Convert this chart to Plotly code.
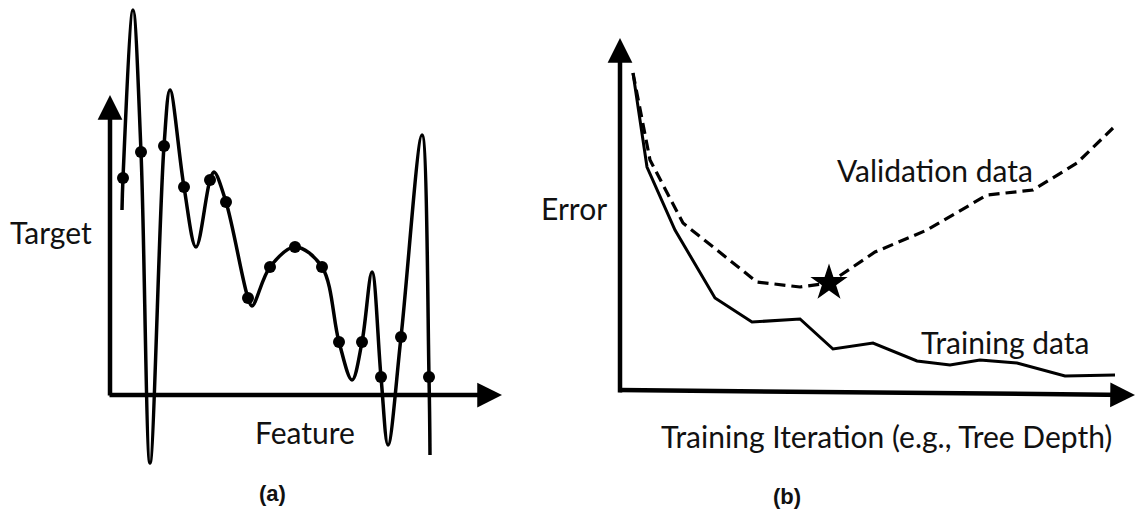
import plotly.graph_objects as go

# ---------------- Panel (a): overfitted curve through samples ----------------
# units: offset from axis origin (feature to the right, target upwards)
curve_feature = [12, 13, 23, 31, 40, 54, 60, 74, 86, 100, 104, 116, 138, 142, 160, 185,
                 212, 229, 242, 252, 262, 271, 278, 291, 312, 319, 320]
curve_target = [185, 217, 385, 243, -68, 249, 305, 208, 148, 215, 223, 193, 97, 89, 128, 148,
                128, 53, 15, 53, 123, 18, -50, 58, 260, 18, -60]

dots_feature = [13, 31, 54, 74, 100, 116, 138, 160, 185, 212, 229, 252, 271, 291, 319]
dots_target = [217, 243, 249, 208, 215, 193, 97, 128, 148, 128, 53, 53, 18, 58, 18]

# ---------------- Panel (b): error vs training iteration ----------------
train_iter = [13, 27, 55, 95, 132, 180, 213, 253, 297, 330, 360, 397, 445, 495]
train_err = [319, 225, 162, 94, 70, 73, 43, 49, 31, 27, 32, 29, 16, 17]

val_iter = [13, 30, 63, 137, 180, 209, 255, 307, 367, 413, 457, 493]
val_err = [319, 232, 169, 110, 105, 109, 140, 162, 197, 202, 229, 264]
best_index = 5

FONT = "Lato"
TXT = 30

fig = go.Figure()

fig.add_trace(go.Scatter(x=curve_feature, y=curve_target, mode="lines",
                         line=dict(color="black", width=3.5, shape="spline", smoothing=1.0),
                         xaxis="x", yaxis="y", hoverinfo="skip"))
fig.add_trace(go.Scatter(x=dots_feature, y=dots_target, mode="markers",
                         marker=dict(color="black", size=12),
                         xaxis="x", yaxis="y", hoverinfo="skip"))

fig.add_trace(go.Scatter(x=train_iter, y=train_err, mode="lines",
                         line=dict(color="black", width=3),
                         xaxis="x2", yaxis="y2", hoverinfo="skip"))
fig.add_trace(go.Scatter(x=val_iter, y=val_err, mode="lines",
                         line=dict(color="black", width=3.2, dash="11px,6px"),
                         xaxis="x2", yaxis="y2", hoverinfo="skip"))
fig.add_trace(go.Scatter(x=[val_iter[best_index]], y=[val_err[best_index]], mode="markers",
                         marker=dict(color="black", size=28, symbol="star"),
                         xaxis="x2", yaxis="y2", hoverinfo="skip"))

W, H = 1137, 512
ax_common = dict(visible=False, showgrid=False, zeroline=False, fixedrange=True)
fig.update_layout(
    width=W, height=H, margin=dict(l=0, r=0, t=0, b=0),
    paper_bgcolor="white", plot_bgcolor="white", showlegend=False,
    xaxis=dict(domain=[0, 520 / W], range=[-110, 410], **ax_common),
    yaxis=dict(domain=[0, 1], range=[-117, 395], **ax_common),
    xaxis2=dict(domain=[560 / W, 1], range=[-60, 517], **ax_common),
    yaxis2=dict(domain=[0, 1], range=[-120, 392], **ax_common),
)

ann = []
# axis arrows
def arrow(xref, yref, x0, y0, x1, y1):
    return dict(x=x1, y=y1, ax=x0, ay=y0, xref=xref, yref=yref, axref=xref, ayref=yref,
                showarrow=True, arrowhead=2, arrowsize=1.1, arrowwidth=4.5,
                arrowcolor="black", text="", standoff=0, startstandoff=0)

ann.append(arrow("x", "y", 0, -2, 0, 300))
ann.append(arrow("x", "y", -2, 0, 392, 0))
ann.append(arrow("x2", "y2", 0, -2, 0, 354))
ann.append(arrow("x2", "y2", -2, 2, 515, -3))

def label(text, xref, yref, x, y, size=TXT, bold=False, family=FONT):
    return dict(text=f"<b>{text}</b>" if bold else text, x=x, y=y, xref=xref, yref=yref,
                showarrow=False, xanchor="center", yanchor="middle",
                font=dict(family=family, size=size, color="#111"))

ann.append(label("Target", "x", "y", -59, 163))
ann.append(label("Feature", "x", "y", 195, -37))
ann.append(label("Error", "x2", "y2", -46, 184))
ann.append(label("Validation data", "x2", "y2", 315, 222))
ann.append(label("Training data", "x2", "y2", 385, 50))
ann.append(label("Training Iteration (e.g., Tree Depth)", "x2", "y2", 266, -44))
ann.append(label("(a)", "paper", "paper", 272 / W, 1 - 493 / H, size=22, bold=True,
                 family="Liberation Sans"))
ann.append(label("(b)", "paper", "paper", 787 / W, 1 - 496 / H, size=22, bold=True,
                 family="Liberation Sans"))

fig.update_layout(annotations=ann)
fig.write_html("out.html", config={"displayModeBar": False, "staticPlot": True},
               post_script="document.body.style.margin='0px';document.body.style.overflow='hidden';")
